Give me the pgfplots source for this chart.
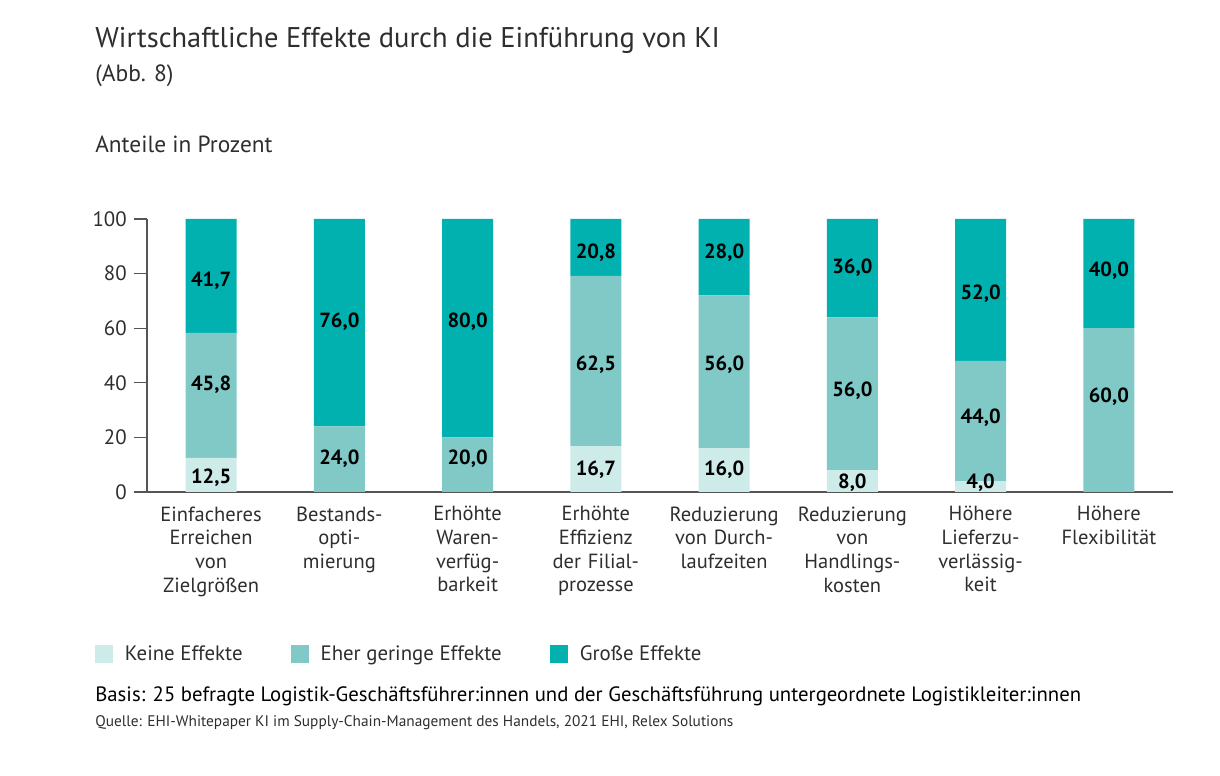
\documentclass[border=0pt]{standalone}
\usepackage{pgfplots}
\pgfplotsset{compat=1.18}
\usepackage{fontspec}
\setmainfont{PT Sans}
\definecolor{cLight}{HTML}{CDEBE9}
\definecolor{cMid}{HTML}{80C9C7}
\definecolor{cDark}{HTML}{00B1B0}
\definecolor{txt}{HTML}{2E2E2E}
\definecolor{axc}{HTML}{555555}
\begin{document}
\begin{tikzpicture}
\useasboundingbox (0,0) rectangle (732pt,465.6pt);
% titles
\node[anchor=base west, inner sep=0pt, text=txt, font=\fontsize{17.1}{20}\selectfont] at (95*0.6pt,{(776-48)*0.6pt}) {Wirtschaftliche Effekte durch die Einführung von KI};
\node[anchor=base west, inner sep=0pt, text=txt, font=\fontsize{14.1}{16}\selectfont] at (95*0.6pt,{(776-82)*0.6pt}) {(Abb. 8)};
\node[anchor=base west, inner sep=0pt, text=txt, font=\fontsize{14}{16}\selectfont] at (95*0.6pt,{(776-153)*0.6pt}) {Anteile in Prozent};
\node[anchor=base west, inner sep=0pt, text=black, font=\fontsize{12.45}{14}\selectfont] at (95*0.6pt,{(776-702)*0.6pt}) {Basis: 25 befragte Logistik-Geschäftsführer:innen und der Geschäftsführung untergeordnete Logistikleiter:innen};
\node[anchor=base west, inner sep=0pt, text=txt, font=\fontsize{9.2}{11}\selectfont] at (95*0.6pt,{(776-727)*0.6pt}) {Quelle: EHI-Whitepaper KI im Supply-Chain-Management des Handels, 2021 EHI, Relex Solutions};

\begin{axis}[
  at={(147*0.6pt,{(776-492)*0.6pt})}, anchor=south west,
  scale only axis, width=615.6pt, height=163.8pt,
  ybar stacked, bar width=30.6pt,
  xmin=0.5, xmax=8.5, ymin=0, ymax=100,
  axis lines=left, axis line style={-, draw=axc, line width=0.8pt},
  ytick={0,20,...,100},
  xtick={1,...,8},
  xticklabels={{Einfacheres\\Erreichen\\von\\Zielgrößen},{Bestands-\\opti-\\mierung},{Erhöhte\\Waren-\\verfüg-\\barkeit},{Erhöhte\\Effizienz\\der Filial-\\prozesse},{Reduzierung\\von Durch-\\laufzeiten},{Reduzierung\\von\\Handlings-\\kosten},{Höhere\\Lieferzu-\\verlässig-\\keit},{Höhere\\Flexibilität}},
  x tick label style={align=center, text width=80pt, font=\fontsize{12.3}{14.2}\selectfont, text=txt, inner sep=0pt, yshift=-0.5pt},
  y tick label style={font=\fontsize{12.5}{15}\selectfont, text=txt, inner sep=0pt, xshift=-4pt},
  /pgf/number format/assume math mode=true,
  major x tick style={draw=none},
  extra x ticks={0.5,1.5,...,8.5}, extra x tick labels={},
  extra x tick style={major tick length=7pt, tick align=outside, tick style={draw=axc, line width=0.8pt}},
  ytick style={draw=axc, line width=0.8pt}, major tick length=8pt, tick align=outside,
  legend style={at={(-0.0507,-0.5934)}, anchor=west, draw=none, fill=none, inner sep=0pt,
    font=\fontsize{12.5}{14}\selectfont, text=txt,
    /tikz/every odd column/.append style={column sep=5pt},
    /tikz/every even column/.append style={column sep=27pt}},
  legend columns=3,
  legend image code/.code={\fill[#1] (0pt,-5.4pt) rectangle (10.8pt,5.4pt);},
]
\addplot[fill=cLight, draw=none] coordinates {(1,12.5) (2,0) (3,0) (4,16.7) (5,16) (6,8) (7,4) (8,0)};
\addplot[fill=cMid, draw=none] coordinates {(1,45.8) (2,24) (3,20) (4,62.5) (5,56) (6,56) (7,44) (8,60)};
\addplot[fill=cDark, draw=none] coordinates {(1,41.7) (2,76) (3,80) (4,20.8) (5,28) (6,36) (7,52) (8,40)};
\legend{Keine Effekte, Eher geringe Effekte, Große Effekte}
\end{axis}

\begin{axis}[
  at={(147*0.6pt,{(776-492)*0.6pt})}, anchor=south west,
  scale only axis, width=615.6pt, height=163.8pt,
  xmin=0.5, xmax=8.5, ymin=0, ymax=100, hide axis,
]
\addplot[only marks, mark=none, point meta=explicit symbolic,
  nodes near coords, nodes near coords align={center},
  every node near coord/.append style={font=\bfseries\fontsize{12.3}{14}\selectfont, text=black, anchor=center}]
  table[meta=lab] {
x y lab
1 5.1 12,5
1 39.2 45,8
1 77.3 41,7
2 12.1 24,0
2 62.3 76,0
3 12.1 20,0
3 62.3 80,0
4 8.1 16,7
4 46.5 62,5
4 87.5 20,8
5 8.1 16,0
5 46.5 56,0
5 87.5 28,0
6 3.3 8,0
6 37 56,0
6 82 36,0
7 3.3 4,0
7 27.1 44,0
7 72.5 52,0
8 34.8 60,0
8 81 40,0
};
\end{axis}
\end{tikzpicture}
\end{document}
